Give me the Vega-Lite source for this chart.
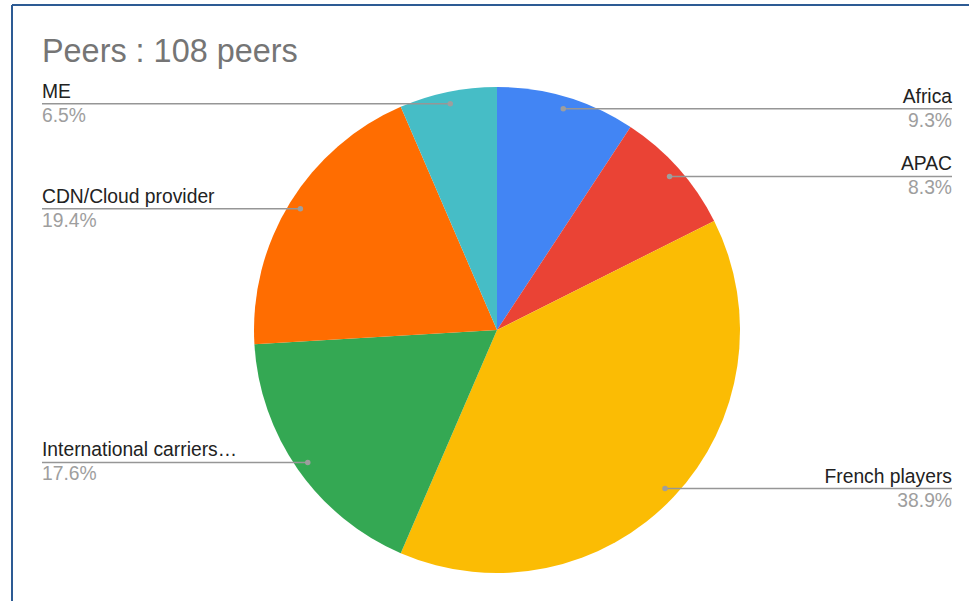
{
  "$schema": "https://vega.github.io/schema/vega-lite/v6.json",
  "autosize": "none",
  "width": 957,
  "height": 596,
  "padding": {"left": 12, "top": 5, "right": 0, "bottom": 0},
  "background": "white",
  "title": {
    "text": "Peers : 108 peers",
    "anchor": "start",
    "frame": "group",
    "dx": 30,
    "offset": -90,
    "baseline": "alphabetic",
    "font": "Liberation Sans",
    "fontSize": 32.4,
    "fontWeight": "normal",
    "color": "#757575"
  },
  "config": {"view": {"stroke": null}},
  "layer": [
    {
      "data": {"values": [{"b": 1}]},
      "mark": {"type": "rule", "color": "#2d5b94", "strokeWidth": 2},
      "encoding": {
        "x": {"datum": -485, "type": "quantitative", "scale": {"domain": [-485, 472], "nice": false, "zero": false}, "axis": null}
      }
    },
    {
      "data": {"values": [{"b": 1}]},
      "mark": {"type": "rule", "color": "#2d5b94", "strokeWidth": 2},
      "encoding": {
        "y": {"datum": 325, "type": "quantitative", "scale": {"domain": [-271, 325], "nice": false, "zero": false}, "axis": null}
      }
    },
    {
      "data": {
        "values": [
          {"order": 1, "label": "Africa", "count": 10},
          {"order": 2, "label": "APAC", "count": 9},
          {"order": 3, "label": "French players", "count": 42},
          {"order": 4, "label": "International carriers…", "count": 19},
          {"order": 5, "label": "CDN/Cloud provider", "count": 21},
          {"order": 6, "label": "ME", "count": 7}
        ]
      },
      "transform": [
        {"joinaggregate": [{"op": "sum", "field": "count", "as": "total"}]},
        {"window": [{"op": "sum", "field": "count", "as": "cum"}], "sort": [{"field": "order"}], "frame": [null, 0]},
        {"calculate": "datum.count / datum.total", "as": "pct"},
        {"calculate": "(datum.cum - datum.count / 2) / datum.total * 2 * PI", "as": "mid"},
        {"calculate": "231 * sin(datum.mid)", "as": "px"},
        {"calculate": "231 * cos(datum.mid)", "as": "py"},
        {"calculate": "sin(datum.mid) > 0 ? 455 : -455", "as": "side"}
      ],
      "layer": [
        {
          "mark": {"type": "arc", "outerRadius": 243},
          "encoding": {
            "theta": {"field": "count", "type": "quantitative", "stack": true},
            "order": {"field": "order", "type": "quantitative"},
            "color": {
              "field": "label",
              "type": "nominal",
              "scale": {
                "domain": ["Africa", "APAC", "French players", "International carriers…", "CDN/Cloud provider", "ME"],
                "range": ["#4285F4", "#EA4335", "#FBBC04", "#34A853", "#FF6D01", "#46BDC6"]
              },
              "legend": null
            },
            "x": {"datum": 0, "type": "quantitative"},
            "y": {"datum": 0, "type": "quantitative"}
          }
        },
        {
          "mark": {"type": "rule", "color": "#969696", "strokeWidth": 1.6},
          "encoding": {
            "x": {"field": "side", "type": "quantitative"},
            "x2": {"field": "px"},
            "y": {"field": "py", "type": "quantitative"}
          }
        },
        {
          "mark": {"type": "point", "shape": "circle", "filled": true, "color": "#9e9e9e", "opacity": 1, "size": 30},
          "encoding": {
            "x": {"field": "px", "type": "quantitative"},
            "y": {"field": "py", "type": "quantitative"}
          }
        },
        {
          "transform": [{"filter": "datum.side > 0"}],
          "mark": {"type": "text", "align": "right", "baseline": "alphabetic", "dy": -6, "font": "Liberation Sans", "fontSize": 19.3, "color": "#222222"},
          "encoding": {
            "x": {"field": "side", "type": "quantitative"},
            "y": {"field": "py", "type": "quantitative"},
            "text": {"field": "label"}
          }
        },
        {
          "transform": [{"filter": "datum.side < 0"}],
          "mark": {"type": "text", "align": "left", "baseline": "alphabetic", "dy": -6, "font": "Liberation Sans", "fontSize": 19.3, "color": "#222222"},
          "encoding": {
            "x": {"field": "side", "type": "quantitative"},
            "y": {"field": "py", "type": "quantitative"},
            "text": {"field": "label"}
          }
        },
        {
          "transform": [{"filter": "datum.side > 0"}],
          "mark": {"type": "text", "align": "right", "baseline": "alphabetic", "dy": 18, "font": "Liberation Sans", "fontSize": 19.3, "color": "#9e9e9e"},
          "encoding": {
            "x": {"field": "side", "type": "quantitative"},
            "y": {"field": "py", "type": "quantitative"},
            "text": {"field": "pct", "format": ".1%"}
          }
        },
        {
          "transform": [{"filter": "datum.side < 0"}],
          "mark": {"type": "text", "align": "left", "baseline": "alphabetic", "dy": 18, "font": "Liberation Sans", "fontSize": 19.3, "color": "#9e9e9e"},
          "encoding": {
            "x": {"field": "side", "type": "quantitative"},
            "y": {"field": "py", "type": "quantitative"},
            "text": {"field": "pct", "format": ".1%"}
          }
        }
      ]
    }
  ]
}
